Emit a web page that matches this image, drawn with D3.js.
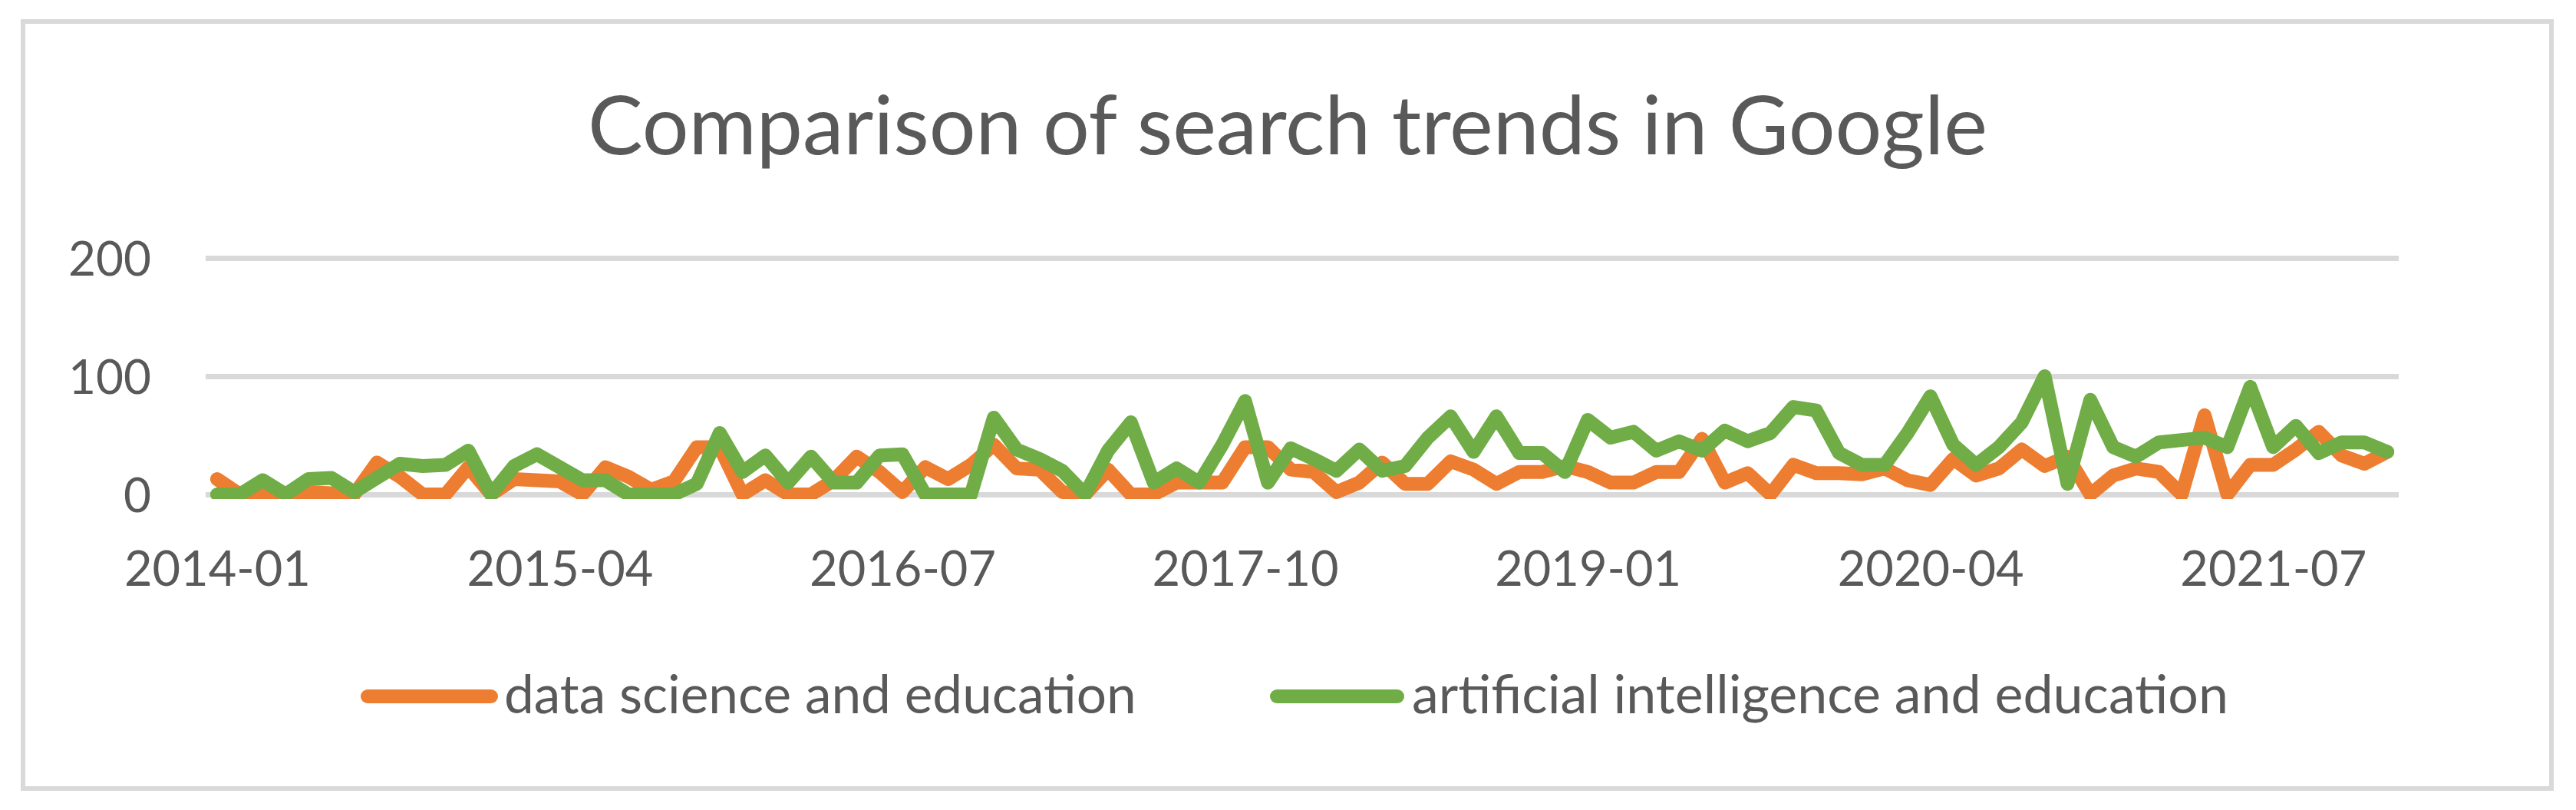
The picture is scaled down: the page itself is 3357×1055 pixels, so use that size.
<!DOCTYPE html>
<html>
<head>
<meta charset="utf-8">
<script src="https://cdn.jsdelivr.net/npm/d3@7"></script>
<style>
  html, body { margin: 0; padding: 0; background: #fff; }
  svg { display: block; }
</style>
</head>
<body>
<svg id="theSvg"></svg>
<script>
// categories: monthly, 2014-01 .. 2021-12
const months = d3.timeMonth.range(new Date(2014, 0, 1), new Date(2022, 0, 1)).map(d3.timeFormat("%Y-%m"));
const tickLabels = ["2014-01", "2015-04", "2016-07", "2017-10", "2019-01", "2020-04", "2021-07"];
const yTicks = [0, 100, 200];

const seriesNames = ["data science and education", "artificial intelligence and education"];

const dataScience = [
  13, 0, 0, 0, 2, 1, 0, 27, 15, 0, 0, 23,
  0, 13, 12, 11, 0, 23, 15, 4, 11, 40, 40, 0,
  12, 0, 0, 12, 32, 19, 2, 23, 13, 25, 42, 22,
  21, 2, 0, 21, 0, 0, 10, 10, 10, 40, 40, 21,
  19, 2, 10, 27, 9, 9, 28, 21, 9, 19, 19, 24,
  19, 10, 10, 19, 19, 47, 10, 18, 0, 25, 18, 18,
  17, 22, 12, 8, 30, 16, 22, 38, 24, 32, 0, 16,
  22, 19, 0, 67, 0, 25, 25, 38, 53, 33, 26, 36
];

const artificialIntelligence = [
  0, 0, 12, 0, 13, 14, 2, 14, 26, 24, 25, 37,
  0, 24, 34, 23, 12, 12, 0, 0, 0, 9, 52, 19,
  33, 10, 32, 10, 10, 33, 34, 0, 0, 0, 65, 38,
  30, 20, 0, 37, 61, 10, 22, 10, 42, 79, 10, 39,
  30, 20, 38, 20, 24, 48, 66, 36, 66, 35, 35, 19,
  63, 48, 53, 37, 45, 37, 54, 45, 52, 74, 71, 35,
  25, 25, 52, 83, 42, 25, 40, 61, 100, 9, 80, 40,
  32, 44, 46, 48, 40, 91, 40, 58, 35, 44, 44, 36
];

const colours = ["#ED7D31", "#70AD47"];

const width = 3357, height = 1055;
const margin = {top: 336, right: 231, bottom: 411, left: 268};
const textColour = "#595959";
const gridColour = "#D9D9D9";
const font = "Lato, 'Open Sans', sans-serif";

const svg = d3.select("#theSvg")
  .attr("width", width)
  .attr("height", height)
  .attr("viewBox", [0, 0, width, height]);

// scale a text's font-size so that it spans the given width
function fitWidth(sel, target) {
  sel.each(function() {
    const w = this.getComputedTextLength();
    const fs = parseFloat(d3.select(this).attr("font-size"));
    d3.select(this).attr("font-size", fs * target / w);
  });
}

// chart border
svg.append("rect")
  .attr("x", 30).attr("y", 28)
  .attr("width", 3295).attr("height", 999)
  .attr("fill", "#fff")
  .attr("stroke", gridColour)
  .attr("stroke-width", 6);

const x = d3.scalePoint()
  .domain(months)
  .range([margin.left, width - margin.right])
  .padding(0.5);

const y = d3.scaleLinear()
  .domain([0, 200])
  .range([644, 336]);

// title
const title = svg.append("text")
  .attr("x", 1678)
  .attr("y", 201)
  .attr("text-anchor", "middle")
  .attr("font-family", font)
  .attr("font-size", 100)
  .attr("fill", textColour)
  .text("Comparison of search trends in Google");
fitWidth(title, 1824);

// y axis + gridlines
const yAxis = svg.append("g")
  .attr("transform", "translate(" + margin.left + ",0)")
  .call(d3.axisLeft(y).tickValues(yTicks).tickSize(-(width - margin.right - margin.left)).tickPadding(71))
  .call(g => g.select(".domain").remove());

yAxis.selectAll(".tick line")
  .attr("stroke", gridColour)
  .attr("stroke-width", 7);

yAxis.selectAll(".tick text")
  .attr("font-family", font)
  .attr("font-size", 66)
  .attr("fill", textColour)
  .attr("dy", "0.36em");

// x axis
const xAxis = svg.append("g")
  .attr("transform", "translate(0,644)")
  .call(d3.axisBottom(x).tickValues(tickLabels).tickSize(0))
  .call(g => g.select(".domain").remove());

xAxis.selectAll(".tick text")
  .attr("font-family", font)
  .attr("font-size", 66)
  .attr("fill", textColour)
  .attr("y", 119)
  .attr("dy", null);

// match label sizes to the reference
const firstX = xAxis.select(".tick text").node();
const xFs = 66 * 243 / firstX.getComputedTextLength();
xAxis.selectAll(".tick text").attr("font-size", xFs);
const topY = yAxis.selectAll(".tick text").filter(d => d === 200).node();
const yFs = 66 * 108 / topY.getComputedTextLength();
yAxis.selectAll(".tick text").attr("font-size", yFs);

// lines
svg.append("clipPath")
  .attr("id", "plotClip")
  .append("rect")
  .attr("x", 0).attr("y", 0)
  .attr("width", width).attr("height", 650);

const line = d3.line()
  .x((d, i) => x(months[i]))
  .y(d => y(d));

const lineGroup = svg.append("g")
  .attr("clip-path", "url(#plotClip)")
  .attr("fill", "none")
  .attr("stroke-width", 18)
  .attr("stroke-linejoin", "round")
  .attr("stroke-linecap", "round");

[dataScience, artificialIntelligence].forEach((series, k) => {
  lineGroup.append("path")
    .datum(series)
    .attr("stroke", colours[k])
    .attr("d", line);
});

// legend
const legendItems = [
  {name: seriesNames[0], colour: colours[0], x0: 479, x1: 640, tx: 657, tw: 824},
  {name: seriesNames[1], colour: colours[1], x0: 1664, x1: 1821, tx: 1840, tw: 1064}
];

const legend = svg.append("g").attr("class", "legend");

legendItems.forEach(item => {
  legend.append("line")
    .attr("x1", item.x0).attr("x2", item.x1)
    .attr("y1", 907).attr("y2", 907)
    .attr("stroke", item.colour)
    .attr("stroke-width", 18)
    .attr("stroke-linecap", "round");
  const t = legend.append("text")
    .attr("x", item.tx)
    .attr("y", 929)
    .attr("font-family", font)
    .attr("font-size", 66)
    .attr("fill", textColour)
    .text(item.name);
  fitWidth(t, item.tw);
});
</script>
</body>
</html>
